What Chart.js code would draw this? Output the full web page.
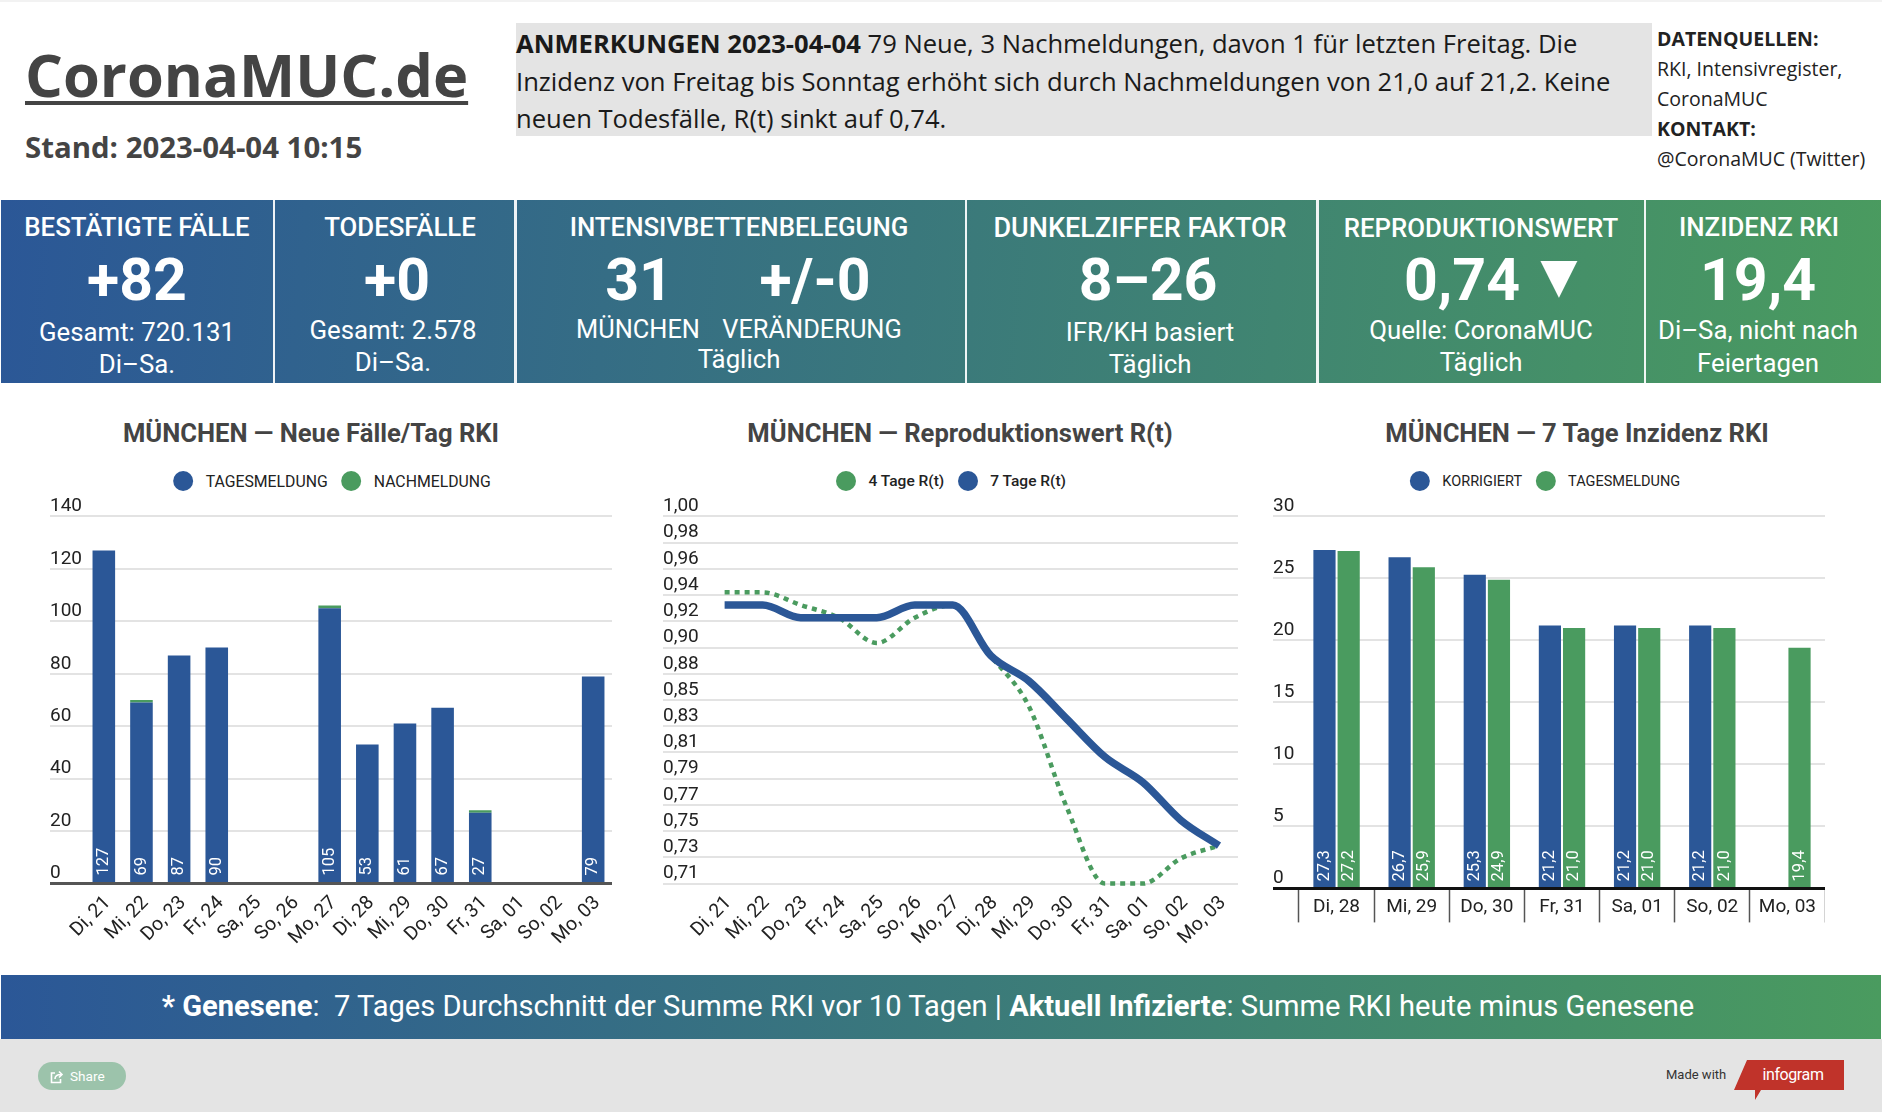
<!DOCTYPE html>
<html lang="de">
<head>
<meta charset="utf-8">
<title>CoronaMUC.de</title>
<script src="https://cdn.jsdelivr.net/npm/chart.js@4"></script>
<style>
  html, body { margin: 0; padding: 0; background: #fff; }
  #page { position: relative; width: 1882px; height: 1112px; overflow: hidden; font-family: Roboto, sans-serif; background: #fff; }
  #page > div, #page > canvas, #page > a { position: absolute; }
  .c { transform: translate(-50%, -50%); white-space: nowrap; }
  .open { font-family: "Open Sans", sans-serif; }
  #topStrip { left: 0; top: 0; width: 1882px; height: 2px; background: #f2f2f2; }
  #logo { left: 25px; top: 34px; font-size: 59.6px; line-height: 80px; font-weight: 700; color: #444; text-decoration: underline; text-decoration-thickness: 4px; text-underline-offset: 4px; white-space: nowrap; }
  #stand { left: 25px; top: 126px; font-size: 29.4px; line-height: 42px; font-weight: 700; color: #444; white-space: nowrap; }
  #notes { left: 516px; top: 23px; width: 1136px; height: 113px; background: #e4e4e4; font-size: 25.6px; line-height: 37.5px; color: #1a1a1a; padding-top: 2px; box-sizing: border-box; white-space: nowrap; }
  #sources { left: 1657px; top: 24px; font-size: 19.5px; line-height: 30px; color: #222; white-space: nowrap; }
  #kpiBand { left: 1px; top: 200px; width: 1880px; height: 183px; background: linear-gradient(95deg, #2b5797, #4a9b5f); }
  .sep { top: 200px; width: 2.4px; height: 183px; background: #fff; opacity: .92; }
  .kh { color: #fff; font-size: 25.8px; font-weight: 500; }
  .kb { color: #fff; font-size: 59px; font-weight: 700; }
  .ks { color: #fff; font-size: 25.8px; }
  .chartTitle { color: #444; font-size: 25.6px; font-weight: 700; top: 432.5px; }
  .legend { top: 481px; display: flex; align-items: center; color: #222; }
  .legend i { display: block; width: 20px; height: 20px; border-radius: 50%; margin-right: 12.5px; }
  .legend span { margin-right: 13.5px; }
  .legend span:last-child { margin-right: 0; }
  #footBand { left: 1px; top: 975px; width: 1880px; height: 64px; background: linear-gradient(90deg, #2b5797, #4a9b5f); }
  #footText { left: 928px; top: 1006px; color: #fff; font-size: 29.1px; }
  #footGrey { left: 0; top: 1039px; width: 1882px; height: 73px; background: #e4e4e4; }
  #share { left: 38px; top: 1062px; width: 88px; height: 28px; border-radius: 14px; background: #9cc3ab; color: #fff; font-size: 13.6px; line-height: 28px; text-indent: 32px; }
  #shareIcon { left: 50px; top: 1069px; }
  #madeWith { left: 1666px; top: 1067px; color: #333; font-size: 13px; white-space: nowrap; }
  #infogram { left: 1734px; top: 1060px; width: 110px; height: 40px; background: #c0332a; clip-path: polygon(13px 0, 110px 0, 110px 30px, 27px 30px, 21px 40px, 21px 30px, 0 30px); color: #fff; font-size: 16px; letter-spacing: -0.4px; line-height: 29px; text-align: center; text-indent: 8px; }
</style>
</head>
<body>
<div id="page">
  <div id="topStrip"></div>
  <div id="logo" class="open">CoronaMUC.de</div>
  <div id="stand" class="open">Stand: 2023-04-04 10:15</div>
  <div id="notes" class="open"><b>ANMERKUNGEN 2023-04-04</b> 79 Neue, 3 Nachmeldungen, davon 1 für letzten Freitag. Die<br>Inzidenz von Freitag bis Sonntag erhöht sich durch Nachmeldungen von 21,0 auf 21,2. Keine<br>neuen Todesfälle, R(t) sinkt auf 0,74.</div>
  <div id="sources" class="open"><b>DATENQUELLEN:</b><br>RKI, Intensivregister,<br>CoronaMUC<br><b>KONTAKT:</b><br>@CoronaMUC (Twitter)</div>

  <div id="kpiBand"></div>
  <div class="sep" style="left:272.6px"></div>
  <div class="sep" style="left:514.4px"></div>
  <div class="sep" style="left:965px"></div>
  <div class="sep" style="left:1316.4px"></div>
  <div class="sep" style="left:1643.6px"></div>

  <div class="c kh" style="left:137px;top:227px">BESTÄTIGTE FÄLLE</div>
  <div class="c kb" style="left:137px;top:279px">+82</div>
  <div class="c ks" style="left:137px;top:332px">Gesamt: 720.131</div>
  <div class="c ks" style="left:137px;top:364px">Di–Sa.</div>

  <div class="c kh" style="left:400px;top:227px">TODESFÄLLE</div>
  <div class="c kb" style="left:397px;top:279px">+0</div>
  <div class="c ks" style="left:393px;top:330px">Gesamt: 2.578</div>
  <div class="c ks" style="left:393px;top:362px">Di–Sa.</div>

  <div class="c kh" style="left:739px;top:227px">INTENSIVBETTENBELEGUNG</div>
  <div class="c kb" style="left:639px;top:279px">31</div>
  <div class="c kb" style="left:815px;top:279px">+/-0</div>
  <div class="c ks" style="left:638px;top:329px;font-size:25.4px">MÜNCHEN</div>
  <div class="c ks" style="left:812px;top:329px;font-size:25.4px">VERÄNDERUNG</div>
  <div class="c ks" style="left:739px;top:359px">Täglich</div>

  <div class="c kh" style="left:1140px;top:228px;font-size:27px">DUNKELZIFFER FAKTOR</div>
  <div class="c kb" style="left:1148px;top:279px">8–26</div>
  <div class="c ks" style="left:1150px;top:332px">IFR/KH basiert</div>
  <div class="c ks" style="left:1150px;top:364px">Täglich</div>

  <div class="c kh" style="left:1481px;top:228px">REPRODUKTIONSWERT</div>
  <div class="c kb" style="left:1462px;top:279px">0,74</div>
  <div class="c kb" style="left:1559px;top:275px;font-size:63px">▼</div>
  <div class="c ks" style="left:1481px;top:330px">Quelle: CoronaMUC</div>
  <div class="c ks" style="left:1481px;top:362px">Täglich</div>

  <div class="c kh" style="left:1759px;top:227px">INZIDENZ RKI</div>
  <div class="c kb" style="left:1758px;top:279px">19,4</div>
  <div class="c ks" style="left:1758px;top:330px">Di–Sa, nicht nach</div>
  <div class="c ks" style="left:1758px;top:363px">Feiertagen</div>

  <div class="c chartTitle" style="left:311px">MÜNCHEN — Neue Fälle/Tag RKI</div>
  <div class="c chartTitle" style="left:960px">MÜNCHEN — Reproduktionswert R(t)</div>
  <div class="c chartTitle" style="left:1577px">MÜNCHEN — 7 Tage Inzidenz RKI</div>

  <div class="c legend" id="legendCases" style="left:332px;font-size:15.8px"></div>
  <div class="c legend" id="legendRt" style="left:951px;font-size:15.5px;font-weight:500"></div>
  <div class="c legend" id="legendIncidence" style="left:1545px;font-size:14.5px"></div>

  <canvas id="casesChart" width="562" height="480" style="left:50px;top:480px"></canvas>
  <canvas id="rtChart" width="575" height="480" style="left:663px;top:480px"></canvas>
  <canvas id="incidenceChart" width="552" height="480" style="left:1273px;top:480px"></canvas>

  <div id="footBand"></div>
  <div id="footText" class="c"><b>* Genesene</b>:&nbsp; 7 Tages Durchschnitt der Summe RKI vor 10 Tagen | <b>Aktuell Infizierte</b>: Summe RKI heute minus Genesene</div>
  <div id="footGrey"></div>
  <div id="share">Share</div>
  <div id="shareIcon"><svg width="14" height="14" viewBox="0 0 14 14" fill="none" stroke="#fff" stroke-width="1.6"><path d="M5 3H1.5v9.5h9V9"/><path d="M5 9c0-3 2-4.5 6-4.5M9 1.5l3 3-3 3"/></svg></div>
  <div id="madeWith">Made with</div>
  <div id="infogram">infogram</div>
</div>

<script>
const BLUE = '#2b5797';
const GREEN = '#4a9b5f';

// Neue Faelle pro Tag
const caseDays = ['Di, 21', 'Mi, 22', 'Do, 23', 'Fr, 24', 'Sa, 25', 'So, 26', 'Mo, 27', 'Di, 28', 'Mi, 29', 'Do, 30', 'Fr, 31', 'Sa, 01', 'So, 02', 'Mo, 03'];
const caseReports = [127, 69, 87, 90, 0, 0, 105, 53, 61, 67, 27, 0, 0, 79];
const caseLateReports = [0, 1, 0, 0, 0, 0, 1, 0, 0, 0, 1, 0, 0, 0];

// Reproduktionswert
const rtDays = ['Di, 21', 'Mi, 22', 'Do, 23', 'Fr, 24', 'Sa, 25', 'So, 26', 'Mo, 27', 'Di, 28', 'Mi, 29', 'Do, 30', 'Fr, 31', 'Sa, 01', 'So, 02', 'Mo, 03'];
const rt4Days = [0.94, 0.94, 0.93, 0.92, 0.90, 0.92, 0.93, 0.89, 0.85, 0.77, 0.71, 0.71, 0.73, 0.74];
const rt7Days = [0.93, 0.93, 0.92, 0.92, 0.92, 0.93, 0.93, 0.89, 0.87, 0.84, 0.81, 0.79, 0.76, 0.74];
const rtTickLabels = ['0,71', '0,73', '0,75', '0,77', '0,79', '0,81', '0,83', '0,85', '0,88', '0,90', '0,92', '0,94', '0,96', '0,98', '1,00'];

// 7 Tage Inzidenz
const incidenceDays = ['Di, 28', 'Mi, 29', 'Do, 30', 'Fr, 31', 'Sa, 01', 'So, 02', 'Mo, 03'];
const incidenceCorrected = [27.3, 26.7, 25.3, 21.2, 21.2, 21.2, null];
const incidenceReported = [27.2, 25.9, 24.9, 21.0, 21.0, 21.0, 19.4];

Chart.defaults.font.family = 'Roboto, sans-serif';
Chart.defaults.color = '#222';
Chart.defaults.animation = false;

// y-Beschriftung sitzt ueber der Gitterlinie, nicht daneben
const tickLabelsAbove = {
    id: 'tickLabelsAbove',
    afterDraw(chart) {
        const scale = chart.scales.y;
        const ctx = chart.ctx;
        ctx.save();
        ctx.font = '19px Roboto, sans-serif';
        ctx.fillStyle = '#222';
        ctx.textAlign = 'left';
        ctx.textBaseline = 'middle';
        scale.ticks.forEach((tick, i) => {
            ctx.fillText(tick.label, 0, scale.getPixelForTick(i) - 10);
        });
        ctx.restore();
    }
};

// Werte senkrecht und weiss unten in die Balken schreiben
const barValueLabels = {
    id: 'barValueLabels',
    afterDatasetsDraw(chart, args, opts) {
        const ctx = chart.ctx;
        ctx.save();
        ctx.font = '16.5px Roboto, sans-serif';
        ctx.fillStyle = '#fff';
        ctx.textAlign = 'left';
        ctx.textBaseline = 'middle';
        opts.datasets.forEach(index => {
            const values = chart.data.datasets[index].data;
            chart.getDatasetMeta(index).data.forEach((bar, i) => {
                if (!values[i]) return;
                ctx.save();
                ctx.translate(bar.x, chart.scales.y.bottom - opts.bottom);
                ctx.rotate(-Math.PI / 2);
                ctx.fillText(opts.format(values[i]), 0, 0);
                ctx.restore();
            });
        });
        ctx.restore();
    }
};

function yGrid(tickWidth, zeroColor, zeroWidth) {
    return {
        tickLength: tickWidth,
        color: ctx => ctx.tick && ctx.tick.value === 0 ? zeroColor : '#e3e3e3',
        tickColor: ctx => ctx.tick && ctx.tick.value === 0 ? zeroColor : '#e3e3e3',
        lineWidth: ctx => ctx.tick && ctx.tick.value === 0 ? zeroWidth : 2
    };
}

function buildLegend(id, items) {
    const box = document.getElementById(id);
    items.forEach(item => {
        const dot = document.createElement('i');
        dot.style.background = item.color;
        box.appendChild(dot);
        const label = document.createElement('span');
        label.textContent = item.label;
        box.appendChild(label);
    });
}

function rotatedXTicks() {
    return { autoSkip: false, minRotation: 45, maxRotation: 45, padding: 0, labelOffset: 4, font: { size: 19.4 }, color: '#222' };
}

// feste Hoehe der x-Achse, ohne Platz fuer ueberstehende Beschriftung
function fixXAxis(height) {
    return scale => {
        scale.height = height;
        scale.paddingLeft = 0;
        scale.paddingRight = 0;
    };
}

function initCasesChart() {
    new Chart(document.getElementById('casesChart'), {
        type: 'bar',
        data: {
            labels: caseDays,
            datasets: [
                { label: 'TAGESMELDUNG', data: caseReports, backgroundColor: BLUE, stack: 's' },
                { label: 'NACHMELDUNG', data: caseLateReports, backgroundColor: GREEN, stack: 's' }
            ]
        },
        plugins: [tickLabelsAbove, barValueLabels],
        options: {
            responsive: false,
            layout: { padding: { top: 36.4 } },
            datasets: { bar: { barPercentage: 0.6, categoryPercentage: 1 } },
            plugins: {
                legend: { display: false },
                tooltip: { enabled: false },
                barValueLabels: { datasets: [0], bottom: 8, format: v => String(v) }
            },
            scales: {
                x: {
                    stacked: true,
                    grid: { display: false },
                    border: { display: false },
                    ticks: rotatedXTicks(),
                    afterFit: fixXAxis(76.4)
                },
                y: {
                    stacked: true,
                    min: 0,
                    max: 140,
                    ticks: { stepSize: 20, display: false },
                    border: { display: false },
                    grid: yGrid(35, '#555', 3),
                    afterFit: scale => { scale.width = 35; }
                }
            }
        }
    });
    buildLegend('legendCases', [
        { label: 'TAGESMELDUNG', color: BLUE },
        { label: 'NACHMELDUNG', color: GREEN }
    ]);
}

function initRtChart() {
    new Chart(document.getElementById('rtChart'), {
        type: 'line',
        data: {
            labels: rtDays,
            datasets: [
                {
                    label: '4 Tage R(t)', data: rt4Days, borderColor: GREEN, borderWidth: 4.5,
                    borderDash: [5, 5], cubicInterpolationMode: 'monotone', pointRadius: 0, clip: false, order: 1
                },
                {
                    label: '7 Tage R(t)', data: rt7Days, borderColor: BLUE, borderWidth: 7.5,
                    cubicInterpolationMode: 'monotone', pointRadius: 0, clip: false, order: 0
                }
            ]
        },
        plugins: [tickLabelsAbove],
        options: {
            responsive: false,
            layout: { padding: { top: 36.4 } },
            plugins: { legend: { display: false }, tooltip: { enabled: false } },
            scales: {
                x: {
                    offset: true,
                    grid: { display: false },
                    border: { display: false },
                    ticks: rotatedXTicks(),
                    afterFit: fixXAxis(76.4)
                },
                y: {
                    min: 0.71,
                    max: 1,
                    ticks: { count: 15, display: false, callback: (value, index) => rtTickLabels[index] },
                    border: { display: false },
                    grid: yGrid(42.6, '#e3e3e3', 2),
                    afterFit: scale => { scale.width = 42.6; }
                }
            }
        }
    });
    buildLegend('legendRt', [
        { label: '4 Tage R(t)', color: GREEN },
        { label: '7 Tage R(t)', color: BLUE }
    ]);
}

function initIncidenceChart() {
    new Chart(document.getElementById('incidenceChart'), {
        type: 'bar',
        data: {
            labels: incidenceDays,
            datasets: [
                { label: 'KORRIGIERT', data: incidenceCorrected, backgroundColor: BLUE },
                { label: 'TAGESMELDUNG', data: incidenceReported, backgroundColor: GREEN }
            ]
        },
        plugins: [tickLabelsAbove, barValueLabels],
        options: {
            responsive: false,
            layout: { padding: { top: 36.4 } },
            datasets: { bar: { barPercentage: 0.917, categoryPercentage: 0.644 } },
            plugins: {
                legend: { display: false },
                tooltip: { enabled: false },
                barValueLabels: { datasets: [0, 1], bottom: 7, format: v => v.toFixed(1).replace('.', ',') }
            },
            scales: {
                x: {
                    grid: { offset: true, drawOnChartArea: false, tickLength: 34, tickColor: '#555', tickWidth: 1.5 },
                    border: { display: false },
                    ticks: { autoSkip: false, maxRotation: 0, padding: -27, font: { size: 19 }, color: '#222' },
                    afterFit: fixXAxis(71.6)
                },
                y: {
                    min: 0,
                    max: 30,
                    ticks: { stepSize: 5, display: false },
                    border: { display: false },
                    grid: yGrid(26, '#111', 3),
                    afterFit: scale => { scale.width = 26; }
                }
            }
        }
    });
    buildLegend('legendIncidence', [
        { label: 'KORRIGIERT', color: BLUE },
        { label: 'TAGESMELDUNG', color: GREEN }
    ]);
}

document.addEventListener('DOMContentLoaded', function() {
    initCasesChart();
    initRtChart();
    initIncidenceChart();
});
</script>
</body>
</html>
